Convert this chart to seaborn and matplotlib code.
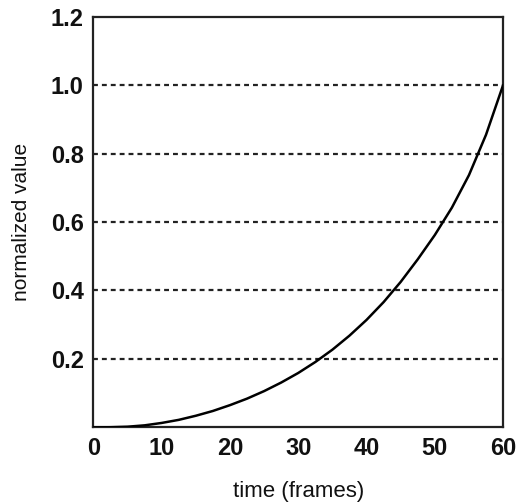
import matplotlib
matplotlib.use("Agg")
import matplotlib.pyplot as plt
import seaborn as sns
import pandas as pd
from matplotlib import font_manager

# Data
frames = [0, 2.5, 5, 7.5, 10, 12.5, 15, 17.5, 20, 22.5, 25, 27.5, 30,
          32.5, 35, 37.5, 40, 42.5, 45, 47.5, 50, 52.5, 55, 57.5, 60]
values = [0.0, 0.0005, 0.002, 0.006, 0.013, 0.022, 0.034, 0.048, 0.065,
          0.084, 0.106, 0.131, 0.159, 0.191, 0.227, 0.268, 0.314, 0.366,
          0.425, 0.491, 0.562, 0.642, 0.737, 0.855, 1.0]
x_ticks = [0, 10, 20, 30, 40, 50, 60]
y_ticks = [0.2, 0.4, 0.6, 0.8, 1.0, 1.2]
y_tick_labels = ["0.2", "0.4", "0.6", "0.8", "1.0", "1.2"]
grid_levels = [0.2, 0.4, 0.6, 0.8, 1.0]

df = pd.DataFrame({"time (frames)": frames, "normalized value": values})

sns.set_style("white")
names = {f.name for f in font_manager.fontManager.ttflist}
fam = "Liberation Sans Narrow" if "Liberation Sans Narrow" in names else "Liberation Sans"
plt.rcParams["font.family"] = [fam, "DejaVu Sans"]

fig = plt.figure(figsize=(5.16, 5.04), dpi=100)
ax = fig.add_axes([0.181, 0.152, 0.794, 0.815])

for lv in grid_levels:
    ax.axhline(lv, color="#222222", lw=1.6, ls=(0, (2.2, 1.8)), zorder=1)

sns.lineplot(data=df, x="time (frames)", y="normalized value", ax=ax,
             color="black", lw=1.8, zorder=3)

ax.set_xlim(0, 60)
ax.set_ylim(0, 1.2)
ax.set_xticks(x_ticks)
ax.set_xticklabels([str(t) for t in x_ticks])
ax.set_yticks(y_ticks)
ax.set_yticklabels(y_tick_labels)
ax.tick_params(length=0, labelsize=17, pad=7, colors="#111111")
for lab in ax.get_xticklabels() + ax.get_yticklabels():
    lab.set_fontweight("bold")

ax.set_xlabel("time (frames)", fontsize=16, labelpad=15, color="#111111")
ax.set_ylabel("normalized value", fontsize=15, labelpad=14, color="#111111")

for s in ax.spines.values():
    s.set_visible(True)
    s.set_color("#222222")
    s.set_linewidth(1.6)

fig.savefig("out.png", dpi=100)
